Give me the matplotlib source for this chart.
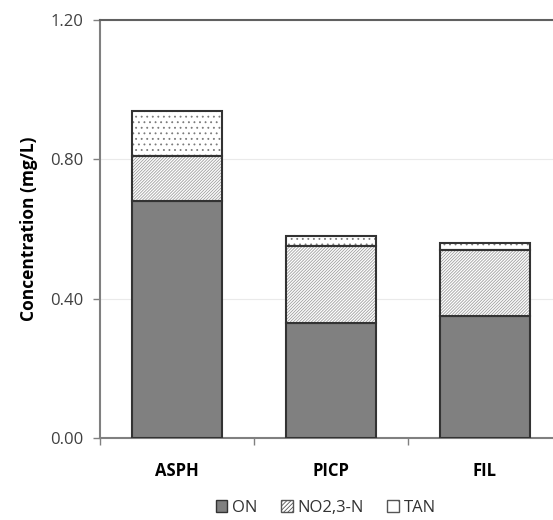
import numpy as np
import matplotlib
matplotlib.use("Agg")
import matplotlib.pyplot as plt
from matplotlib.patches import Patch

plt.rcParams['font.family'] = ['Open Sans', 'DejaVu Sans']
plt.rcParams['hatch.linewidth'] = 0.6

sites = ['ASPH', 'PICP', 'FIL']
on_vals = [0.68, 0.33, 0.35]
no23_vals = [0.13, 0.22, 0.19]
tan_vals = [0.13, 0.03, 0.02]
series_names = ['ON', 'NO2,3-N', 'TAN']


def main():
    fig = plt.figure(figsize=(5.53, 5.2), dpi=100)
    ax = fig.add_axes([100 / 553, 82 / 520, 462 / 553, 418 / 520])

    x = np.arange(len(sites))
    w = 0.58
    edge = '#333333'
    on = np.array(on_vals)
    no23 = np.array(no23_vals)
    tan = np.array(tan_vals)

    # ON solid
    ax.bar(x, on, w, color='#808080', edgecolor=edge, linewidth=1.5, zorder=3)
    # NO2,3-N hatched: fill + hatch in gray, then dark outline
    ax.bar(x, no23, w, bottom=on, color='white', edgecolor='#a0a0a0',
           hatch='/' * 11, linewidth=0, zorder=3)
    ax.bar(x, no23, w, bottom=on, fill=False, edgecolor=edge, linewidth=1.5, zorder=4)
    # TAN dotted
    ax.bar(x, tan, w, bottom=on + no23, color='white', edgecolor='#7a7a7a',
           hatch='...', linewidth=0, zorder=3)
    ax.bar(x, tan, w, bottom=on + no23, fill=False, edgecolor=edge, linewidth=1.5, zorder=4)

    ax.set_xlim(-0.5, 2.5)
    ax.set_ylim(0, 1.2)
    ax.set_yticks([0, 0.4, 0.8, 1.2])
    ax.set_yticklabels(['0.00', '0.40', '0.80', '1.20'])
    ax.set_xticks(x)
    ax.set_xticklabels(sites, fontweight='bold', fontsize=12)
    ax.set_xticks([-0.5, 0.5, 1.5], minor=True)
    ax.tick_params(axis='x', which='major', length=0, pad=17, colors='black')
    ax.tick_params(axis='x', which='minor', length=5, color='#808080', width=1)
    ax.tick_params(axis='y', length=5, color='#808080', width=1, labelsize=12,
                   labelcolor='#404040', pad=7)
    ax.yaxis.grid(True, color='#eaeaea', linewidth=0.8, zorder=0)
    ax.set_axisbelow(True)

    for s in ['left', 'bottom']:
        ax.spines[s].set_color('#808080')
        ax.spines[s].set_linewidth(1.5)
    ax.spines['top'].set_color('#606060')
    ax.spines['top'].set_linewidth(1.5)
    ax.spines['right'].set_visible(False)

    ax.set_ylabel('Concentration (mg/L)', fontweight='bold', fontsize=12.5, labelpad=9)

    handles = [
        Patch(facecolor='#808080', edgecolor=edge, linewidth=1),
        Patch(facecolor='white', edgecolor='#555555', hatch='/' * 8, linewidth=1),
        Patch(facecolor='white', edgecolor='#555555', hatch='.', linewidth=1),
    ]
    fig.legend(handles, series_names, loc='center', bbox_to_anchor=(326 / 553, 1 - 508 / 520),
               ncol=3, frameon=False, fontsize=12, handlelength=0.7, handleheight=0.7,
               handletextpad=0.3, columnspacing=1.4, labelcolor='#333333')

    fig.savefig('out.png', dpi=100)


if __name__ == "__main__":
    main()
